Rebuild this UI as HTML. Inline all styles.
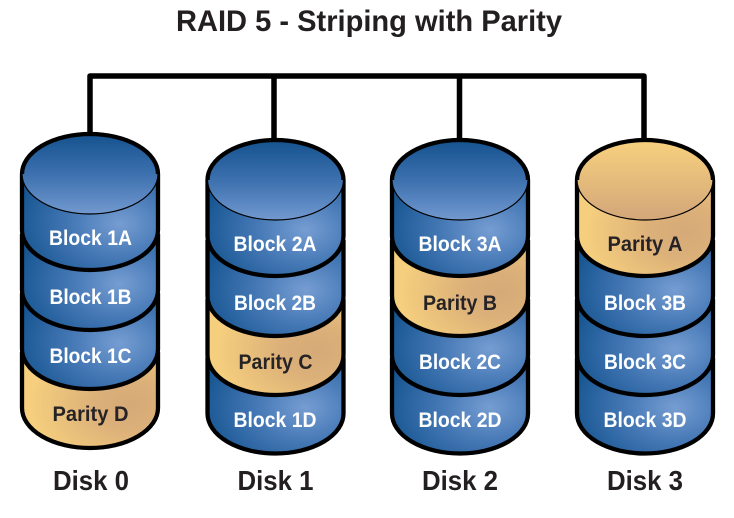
<!DOCTYPE html>
<html>
<head>
<meta charset="utf-8">
<style>
html,body{margin:0;padding:0;background:#fff;width:734px;height:518px;overflow:hidden}
svg{display:block}
text{font-family:"Liberation Sans",sans-serif;font-weight:bold;text-anchor:middle}
.w{fill:#fff;font-size:21px}
.k{fill:#262326;font-size:21px}
.d{fill:#231f20;font-size:28px}
</style>
</head>
<body>
<svg width="734" height="518" viewBox="0 0 734 518" xmlns="http://www.w3.org/2000/svg">
<defs>
<radialGradient id="b" cx="0.72" cy="0.52" r="0.78">
<stop offset="0" stop-color="#769dd2"/><stop offset="0.45" stop-color="#4679b6"/><stop offset="1" stop-color="#165591"/>
</radialGradient>
<radialGradient id="t" cx="0.8" cy="0.55" r="0.75">
<stop offset="0" stop-color="#d6aa78"/><stop offset="0.35" stop-color="#dcb079"/><stop offset="1" stop-color="#f6cf7e"/>
</radialGradient>
<linearGradient id="bt" x1="0" y1="0" x2="0" y2="1">
<stop offset="0" stop-color="#14528e"/><stop offset="0.5" stop-color="#3c70ae"/><stop offset="1" stop-color="#7299cf"/>
</linearGradient>
<linearGradient id="tt" x1="0" y1="0" x2="0" y2="1">
<stop offset="0" stop-color="#f8d17e"/><stop offset="1" stop-color="#d3a679"/>
</linearGradient>
<path id="band" d="M-68,-56V0A68,40 0 0 0 68,0V-56" stroke="#000" stroke-width="4.3" stroke-linejoin="round"/>
<g id="topb"><ellipse cx="0" cy="0" rx="68" ry="40" fill="url(#bt)" stroke="#000" stroke-width="1.2"/><path d="M-68,0A68,40 0 0 1 68,0" fill="none" stroke="#000" stroke-width="4.3"/></g>
<g id="topt"><ellipse cx="0" cy="0" rx="68" ry="40" fill="url(#tt)" stroke="#000" stroke-width="1.2"/><path d="M-68,0A68,40 0 0 1 68,0" fill="none" stroke="#000" stroke-width="4.3"/></g>
</defs>

<rect width="734" height="518" fill="#fff"/>

<text x="369" y="31" fill="#231f20" font-size="29.5" textLength="386" lengthAdjust="spacingAndGlyphs">RAID 5 - Striping with Parity</text>

<path d="M90,134V76H644V140M274,76V140M459.500,76V140" fill="none" stroke="#000" stroke-width="5.500" stroke-linejoin="round"/>

<!-- Disk 0 -->
<g transform="translate(90,0)">
<use href="#band" y="408" fill="url(#t)"/>
<use href="#band" y="349" fill="url(#b)"/>
<use href="#band" y="290" fill="url(#b)"/>
<use href="#band" y="230" fill="url(#b)"/>
<use href="#topb" y="174"/>
</g>
<!-- Disk 1 -->
<g transform="translate(275.500,0)">
<use href="#band" y="413.500" fill="url(#b)"/>
<use href="#band" y="355" fill="url(#t)"/>
<use href="#band" y="296" fill="url(#b)"/>
<use href="#band" y="236" fill="url(#b)"/>
<use href="#topb" y="180"/>
</g>
<!-- Disk 2 -->
<g transform="translate(460,0)">
<use href="#band" y="413.500" fill="url(#b)"/>
<use href="#band" y="355" fill="url(#b)"/>
<use href="#band" y="296" fill="url(#t)"/>
<use href="#band" y="236" fill="url(#b)"/>
<use href="#topb" y="180"/>
</g>
<!-- Disk 3 -->
<g transform="translate(645,0)">
<use href="#band" y="413.500" fill="url(#b)"/>
<use href="#band" y="355" fill="url(#b)"/>
<use href="#band" y="296" fill="url(#b)"/>
<use href="#band" y="236" fill="url(#t)"/>
<use href="#topt" y="180"/>
</g>

<text class="w" x="90.500" y="245" textLength="83" lengthAdjust="spacingAndGlyphs">Block 1A</text>
<text class="w" x="90.500" y="304" textLength="82" lengthAdjust="spacingAndGlyphs">Block 1B</text>
<text class="w" x="90.500" y="363" textLength="82" lengthAdjust="spacingAndGlyphs">Block 1C</text>
<text class="k" x="90.500" y="421" textLength="76" lengthAdjust="spacingAndGlyphs">Parity D</text>

<text class="w" x="275" y="251" textLength="83" lengthAdjust="spacingAndGlyphs">Block 2A</text>
<text class="w" x="275" y="310" textLength="82" lengthAdjust="spacingAndGlyphs">Block 2B</text>
<text class="k" x="275.500" y="369" textLength="74" lengthAdjust="spacingAndGlyphs">Parity C</text>
<text class="w" x="275" y="427" textLength="83" lengthAdjust="spacingAndGlyphs">Block 1D</text>

<text class="w" x="460" y="251" textLength="83" lengthAdjust="spacingAndGlyphs">Block 3A</text>
<text class="k" x="460" y="310" textLength="74" lengthAdjust="spacingAndGlyphs">Parity B</text>
<text class="w" x="460" y="369" textLength="82" lengthAdjust="spacingAndGlyphs">Block 2C</text>
<text class="w" x="460" y="427" textLength="83" lengthAdjust="spacingAndGlyphs">Block 2D</text>

<text class="k" x="645" y="251" textLength="75" lengthAdjust="spacingAndGlyphs">Parity A</text>
<text class="w" x="645" y="310" textLength="82" lengthAdjust="spacingAndGlyphs">Block 3B</text>
<text class="w" x="645" y="369" textLength="82" lengthAdjust="spacingAndGlyphs">Block 3C</text>
<text class="w" x="645" y="427" textLength="83" lengthAdjust="spacingAndGlyphs">Block 3D</text>

<text class="d" x="91" y="490" textLength="76" lengthAdjust="spacingAndGlyphs">Disk 0</text>
<text class="d" x="275.500" y="490" textLength="76" lengthAdjust="spacingAndGlyphs">Disk 1</text>
<text class="d" x="460" y="490" textLength="76" lengthAdjust="spacingAndGlyphs">Disk 2</text>
<text class="d" x="645" y="490" textLength="76" lengthAdjust="spacingAndGlyphs">Disk 3</text>
</svg>
</body>
</html>
